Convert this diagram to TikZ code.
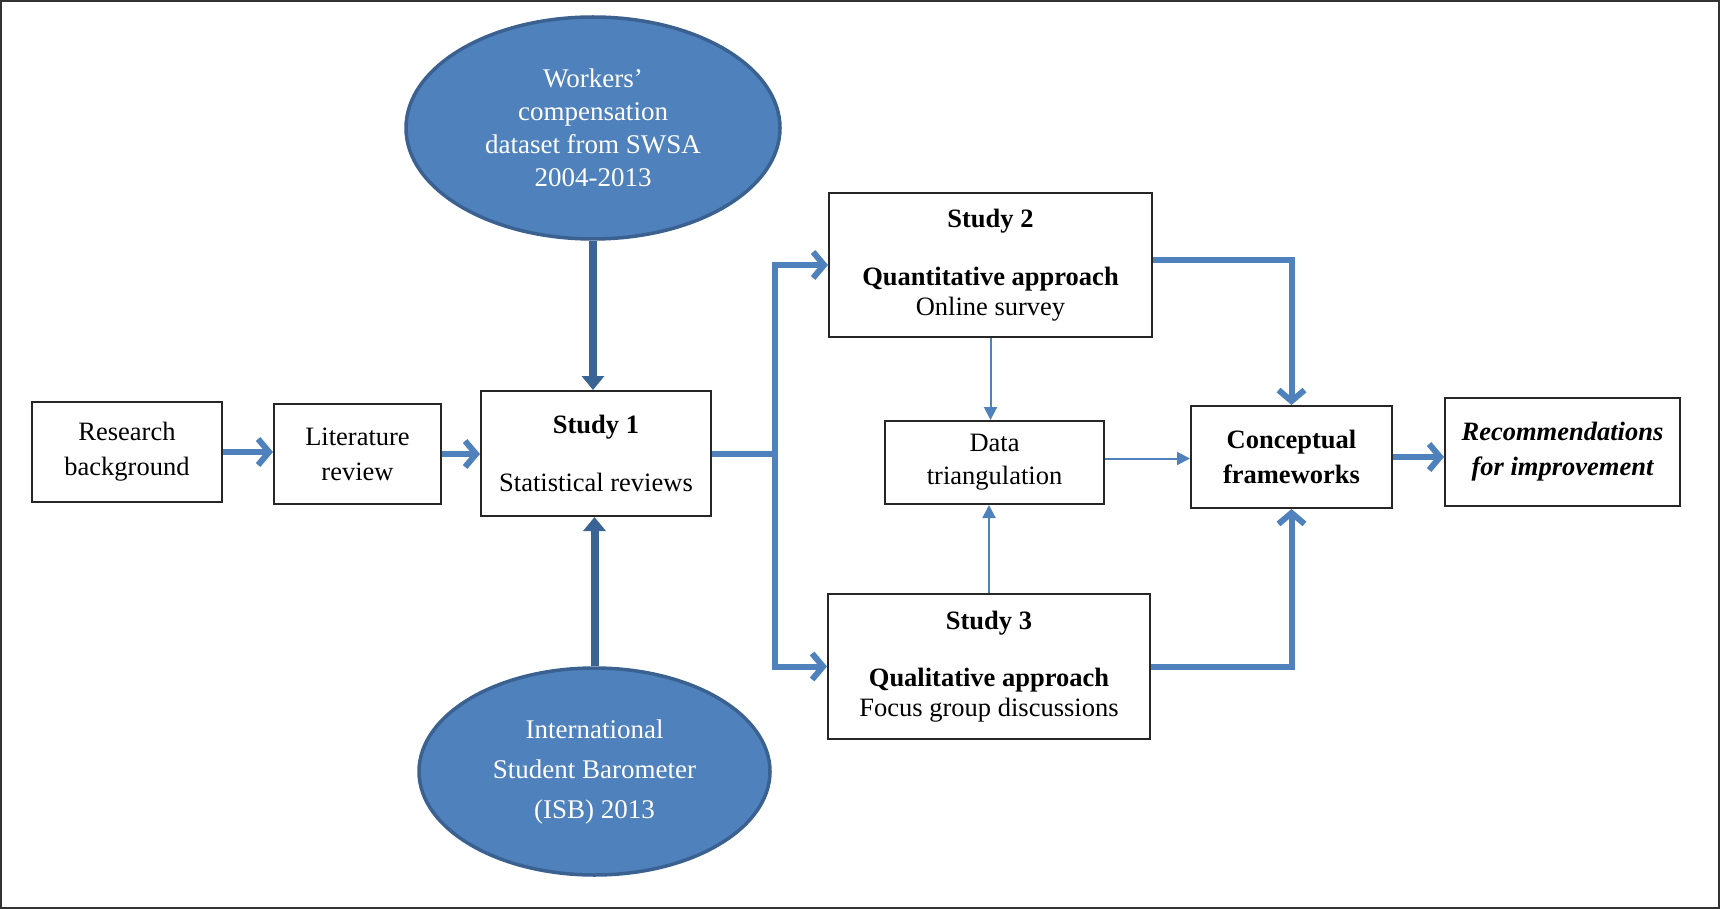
\documentclass[tikz,border=0pt]{standalone}
\usepackage{fontspec}
\setmainfont{Liberation Serif}
\usetikzlibrary{arrows.meta,shapes.geometric,calc}
\definecolor{ablue}{HTML}{4F81BD}
\definecolor{dblue}{HTML}{3A6495}
\definecolor{eborder}{HTML}{3A6190}
\begin{document}
\begin{tikzpicture}[x=1pt,y=-1pt,
  box/.style={draw=black!85, line width=2pt, fill=white, align=center, inner sep=0pt, font=\fontsize{26.5}{33}\selectfont},
  ell/.style={ellipse, draw=eborder, line width=3.5pt, fill=ablue, text=white, align=center, inner sep=0pt},
  bigarrow/.style={draw=ablue, line width=6pt, -{Straight Barb[length=11pt,width=26pt]}},
  bigline/.style={draw=ablue, line width=6pt},
  thinarrow/.style={draw=ablue, line width=2pt, -{Triangle[length=13pt,width=13pt]}},
  darkarrow/.style={draw=dblue, line width=8pt, -{Triangle[length=14pt,width=22pt]}}
]
\useasboundingbox (0,0) rectangle (1720,909);
\draw[line width=2pt, black!80] (1,1) rectangle (1719,908);

\node[box, minimum width=190pt, minimum height=100pt] (rb) at (127,452) {Research\\[2pt]background};
\node[box, minimum width=167pt, minimum height=100pt] (lr) at (357.5,454) {Literature\\[2pt]review};
\node[box, minimum width=230pt, minimum height=125pt] (s1) at (596,453.5) {\textbf{Study 1}\\[25pt]Statistical reviews};
\node[box, minimum width=323pt, minimum height=144pt] (s2) at (990.5,265) {\textbf{Study 2}\\[25pt]\textbf{Quantitative approach}\\[-3pt]Online survey};
\node[box, minimum width=322pt, minimum height=145pt] (s3) at (989,666.5) {\textbf{Study 3}\\[24pt]\textbf{Qualitative approach}\\[-3pt]Focus group discussions};
\node[box, minimum width=219pt, minimum height=83pt] (dt) at (994.5,462.5) {Data\\triangulation};
\node[box, minimum width=201pt, minimum height=102pt, font=\fontsize{26.5}{33}\selectfont\bfseries] (cf) at (1291.5,457) {Conceptual\\[2pt]frameworks};
\node[box, minimum width=235pt, minimum height=108pt, font=\fontsize{26.5}{33}\selectfont\bfseries\itshape] (ri) at (1562.5,452) {Recommendations\\[2pt]for improvement};

\node[ell, minimum width=374pt, minimum height=222pt, font=\fontsize{27}{33}\selectfont] (e1) at (593,128) {Workers’\\compensation\\dataset from SWSA\\2004-2013};
\node[ell, minimum width=351pt, minimum height=207pt, font=\fontsize{27}{40}\selectfont] (e2) at (594.5,771.5) {International\\Student Barometer\\(ISB) 2013};

\draw[bigarrow] (rb.east) -- (rb.east -| lr.west);
\draw[bigarrow] (lr.east) -- (lr.east -| s1.west);
\coordinate (br) at (775,453.5);
\draw[bigline] (s1.east) -- (br);
\draw[bigarrow] (br) |- (s2.west);
\draw[bigarrow] (br) |- (s3.west);
\draw[bigarrow] ([yshift=5pt]s2.east) -| (cf.north);
\draw[bigarrow] (s3.east) -| (cf.south);
\draw[thinarrow] (s2.south) -- (s2.south |- dt.north);
\draw[thinarrow] (s3.north) -- (s3.north |- dt.south);
\draw[thinarrow] ([yshift=4pt]dt.east) -- ([yshift=4pt]dt.east -| cf.west);
\draw[bigarrow] (cf.east) -- (cf.east -| ri.west);
\draw[darkarrow] (e1.south) -- (e1.south |- s1.north);
\draw[darkarrow] (e2.north) -- (e2.north |- s1.south);
\end{tikzpicture}
\end{document}
